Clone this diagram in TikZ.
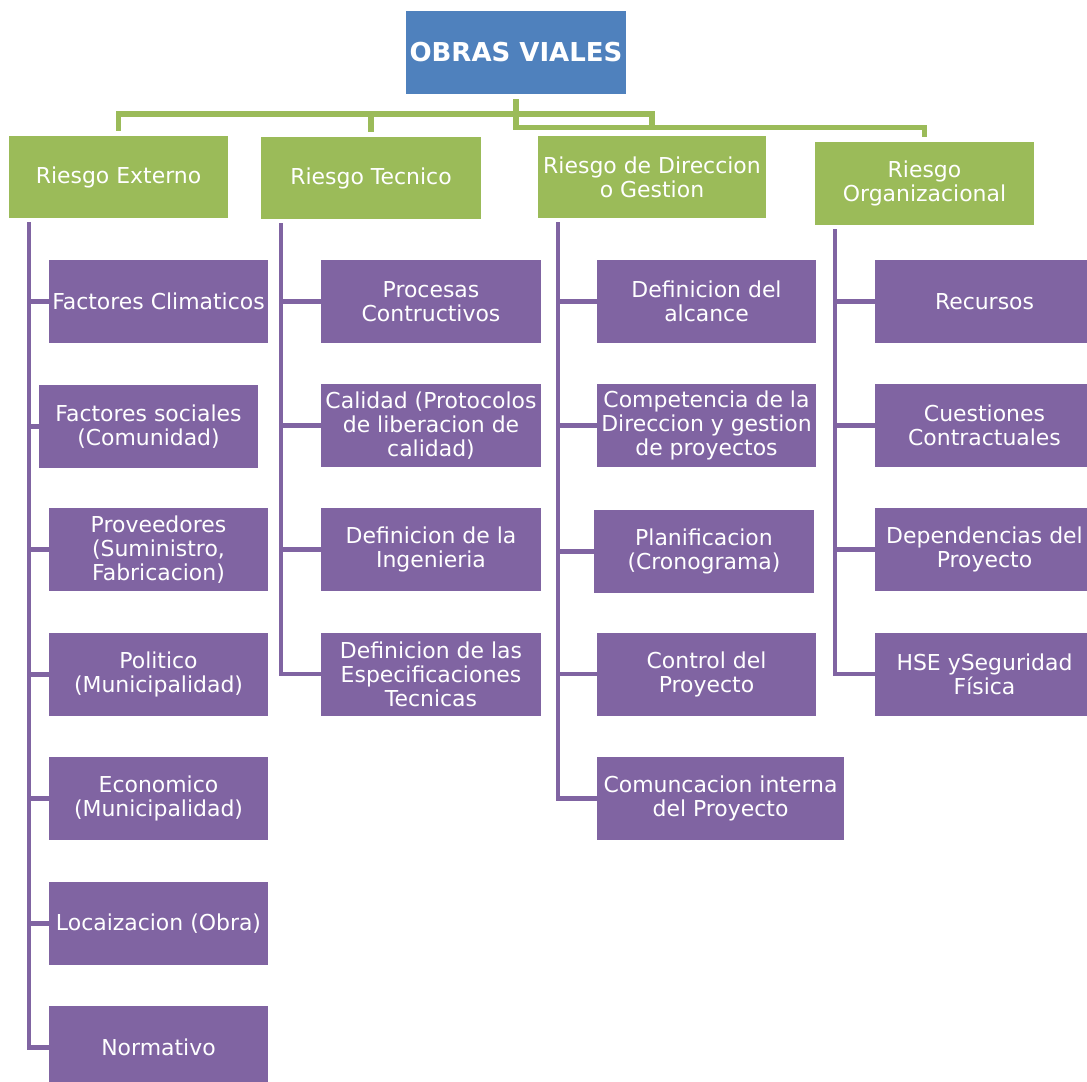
\documentclass[tikz,border=0pt]{standalone}
\usepackage{fontspec}
\setmainfont{DejaVu Sans}
\usepackage{xcolor}
\usepackage{tikz}
\usetikzlibrary{positioning}

\definecolor{azul}{HTML}{4F81BD}
\definecolor{verde}{HTML}{9BBB59}
\definecolor{morado}{HTML}{8064A2}
\newcommand{\cajafont}{\fontsize{15.6pt}{17pt}\selectfont}

\begin{document}
\begin{tikzpicture}[x=0.025cm, y=-0.025cm,
	raiz/.style={shape=rectangle, fill=azul, text=white, minimum width=5.5cm, minimum height=2.075cm, inner sep=1pt, font=\fontsize{18.5pt}{20pt}\selectfont\bfseries},
	riesgo/.style={shape=rectangle, fill=verde, text=white, minimum width=5.475cm, minimum height=2.05cm, inner sep=1pt, align=center, font=\cajafont},
	factor/.style={shape=rectangle, fill=morado, text=white, minimum width=5.475cm, minimum height=2.075cm, inner sep=1pt, align=center, font=\cajafont},
	lineaverde/.style={draw=verde, line width=3.6pt},
	lineamorada/.style={draw=morado, line width=2.9pt}]
	\useasboundingbox (0,0) rectangle (1087,1081);
	% Nodes:
	\node[raiz] (obras) at (516,52.5) {OBRAS VIALES};
	\node[riesgo] (ext) at (118.5,177) {Riesgo Externo};
	\node[riesgo, minimum width=5.5cm] (tec) at (371,178) {Riesgo Tecnico};
	\node[riesgo, minimum width=5.7cm] (dir) at (652,177) {Riesgo de Direccion\\o Gestion};
	\node[riesgo, minimum height=2.075cm] (org) at (924.5,183.5) {Riesgo\\Organizacional};
	% Riesgo Externo:
	\node[factor] (e1) at (158.5,301.5) {Factores Climaticos};
	\node[factor] (e2) at (148.5,426.5) {Factores sociales\\(Comunidad)};
	\node[factor] (e3) at (158.5,549.5) {Proveedores\\(Suministro,\\Fabricacion)};
	\node[factor] (e4) at (158.5,674.5) {Politico\\(Municipalidad)};
	\node[factor] (e5) at (158.5,798.5) {Economico\\(Municipalidad)};
	\node[factor] (e6) at (158.5,923.5) {Locaizacion (Obra)};
	\node[factor] (e7) at (158.5,1047.5) {Normativo};
	% Riesgo Tecnico:
	\node[factor, minimum width=5.5cm] (t1) at (431,301.5) {Procesas\\Contructivos};
	\node[factor, minimum width=5.5cm] (t2) at (431,425.5) {Calidad (Protocolos\\de liberacion de\\calidad)};
	\node[factor, minimum width=5.5cm] (t3) at (431,549.5) {Definicion de la\\Ingenieria};
	\node[factor, minimum width=5.5cm] (t4) at (431,674) {Definicion de las\\Especificaciones\\Tecnicas};
	% Riesgo de Direccion o Gestion:
	\node[factor] (d1) at (706.5,301.5) {Definicion del\\alcance};
	\node[factor] (d2) at (706.5,425.5) {Competencia de la\\Direccion y gestion\\de proyectos};
	\node[factor, minimum width=5.5cm] (d3) at (704,551.5) {Planificacion\\(Cronograma)};
	\node[factor] (d4) at (706.5,674) {Control del\\Proyecto};
	\node[factor, minimum width=6.175cm] (d5) at (720.5,798.5) {Comuncacion interna\\del Proyecto};
	% Riesgo Organizacional:
	\node[factor] (o1) at (984.5,301.5) {Recursos};
	\node[factor] (o2) at (984.5,425.5) {Cuestiones\\Contractuales};
	\node[factor] (o3) at (984.5,549.5) {Dependencias del\\Proyecto};
	\node[factor] (o4) at (984.5,674) {HSE ySeguridad\\Física};
	% Green wires:
	\coordinate (bus) at (516,114);
	\draw[lineaverde] ([yshift=-0.12cm]obras.south) -- ++(0,-0.7cm) -| ([yshift=0.12cm]org.north);
	\draw[lineaverde] ([yshift=0.12cm]ext.north) |- (bus) -| ([yshift=0.17cm]dir.north);
	\draw[lineaverde] ([yshift=0.12cm]tec.north) -- (tec.north |- bus);
	% Purple wires:
	\coordinate (te) at ([shift={(0.5cm,-0.1cm)}]ext.south west);
	\coordinate (tt) at ([shift={(0.5cm,-0.1cm)}]tec.south west);
	\coordinate (td) at ([shift={(0.5cm,-0.1cm)}]dir.south west);
	\coordinate (to) at ([shift={(0.5cm,-0.1cm)}]org.south west);
	\draw[lineamorada] (te) |- (e1.west);
	\draw[lineamorada] (te) |- (e2.west);
	\draw[lineamorada] (te) |- (e3.west);
	\draw[lineamorada] (te) |- (e4.west);
	\draw[lineamorada] (te) |- (e5.west);
	\draw[lineamorada] (te) |- (e6.west);
	\draw[lineamorada] (te) |- (e7.west);
	\draw[lineamorada] (tt) |- (t1.west);
	\draw[lineamorada] (tt) |- (t2.west);
	\draw[lineamorada] (tt) |- (t3.west);
	\draw[lineamorada] (tt) |- (t4.west);
	\draw[lineamorada] (td) |- (d1.west);
	\draw[lineamorada] (td) |- (d2.west);
	\draw[lineamorada] (td) |- (d3.west);
	\draw[lineamorada] (td) |- (d4.west);
	\draw[lineamorada] (td) |- (d5.west);
	\draw[lineamorada] (to) |- (o1.west);
	\draw[lineamorada] (to) |- (o2.west);
	\draw[lineamorada] (to) |- (o3.west);
	\draw[lineamorada] (to) |- (o4.west);
\end{tikzpicture}
\end{document}
